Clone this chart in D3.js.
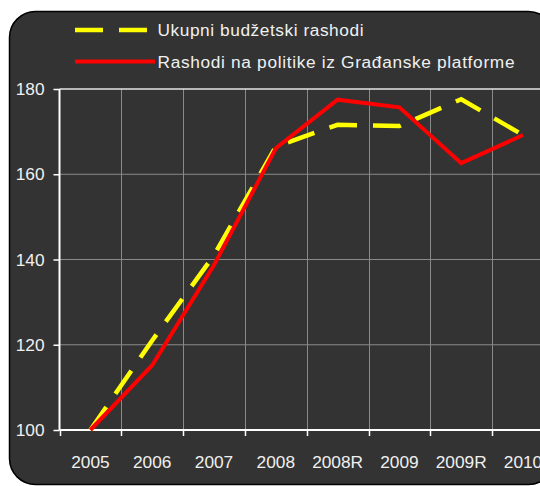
<!DOCTYPE html>
<html>
<head>
<meta charset="utf-8">
<script src="https://cdn.jsdelivr.net/npm/d3@7"></script>
<style>
  body { margin: 0; background: white; }
  svg { display: block; }
</style>
</head>
<body>
<div id="chart"></div>
<script>
// data
let years = ["2005", "2006", "2007", "2008", "2008R", "2009", "2009R", "2010"];
let ukupni = [100, 121, 141, 166.5, 171.6, 171.3, 177.6, 169.2];
let gradjanska = [100, 115.2, 138.7, 166.1, 177.5, 175.7, 162.6, 169.2];
let yTicks = [100, 120, 140, 160, 180];

let svgWidth = 540;
let svgHeight = 486;

let plotLeft = 59.5;
let plotTop = 89;
let plotBottom = 430;
let bandW = 61.8;

let svg = d3.select("#chart")
  .append("svg")
    .attr("width", svgWidth)
    .attr("height", svgHeight);

// dark rounded panel
svg.append("rect")
  .attr("x", 9.5)
  .attr("y", 11.5)
  .attr("width", 545)
  .attr("height", 473)
  .attr("rx", 26)
  .attr("fill", "#333333")
  .attr("stroke", "black")
  .attr("stroke-width", 1.5);

let x = d3.scaleBand()
  .domain(years)
  .range([plotLeft, plotLeft + bandW * years.length]);

let y = d3.scaleLinear()
  .domain([100, 180])
  .range([plotBottom, plotTop]);

// gridlines
svg.selectAll(".hgrid").data(yTicks.slice(1, -1)).enter()
  .append("line")
    .attr("class", "hgrid")
    .attr("x1", plotLeft)
    .attr("x2", svgWidth)
    .attr("y1", d => y(d))
    .attr("y2", d => y(d))
    .attr("stroke", "#8a8a8a")
    .attr("stroke-width", 1);

svg.selectAll(".vgrid").data(years.slice(1)).enter()
  .append("line")
    .attr("class", "vgrid")
    .attr("x1", d => Math.round(x(d)) + 0.5)
    .attr("x2", d => Math.round(x(d)) + 0.5)
    .attr("y1", plotTop)
    .attr("y2", plotBottom)
    .attr("stroke", "#8a8a8a")
    .attr("stroke-width", 1);

// top border of plot
svg.append("line")
  .attr("x1", plotLeft)
  .attr("x2", svgWidth)
  .attr("y1", plotTop)
  .attr("y2", plotTop)
  .attr("stroke", "#e6e6e6")
  .attr("stroke-width", 1.5);

// axes
let yAxis = d3.axisLeft(y)
  .tickValues(yTicks)
  .tickSize(6)
  .tickPadding(9);

let yG = svg.append("g")
  .attr("transform", "translate(" + plotLeft + ",0)")
  .call(yAxis);

let xAxis = d3.axisBottom(x)
  .tickSize(0)
  .tickPadding(26);

let xG = svg.append("g")
  .attr("transform", "translate(0," + plotBottom + ")")
  .call(xAxis);

// category boundary ticks
svg.selectAll(".xtick").data(years).enter()
  .append("line")
    .attr("class", "xtick")
    .attr("x1", d => Math.round(x(d)) + 0.5)
    .attr("x2", d => Math.round(x(d)) + 0.5)
    .attr("y1", plotBottom)
    .attr("y2", plotBottom + 6)
    .attr("stroke", "white")
    .attr("stroke-width", 1.5);

[yG, xG].forEach(g => {
  g.select(".domain").attr("stroke", "white").attr("stroke-width", 2);
  g.selectAll(".tick line").attr("stroke", "white").attr("stroke-width", 1.5);
  g.selectAll(".tick text")
    .attr("fill", "#f0f0f0")
    .attr("font-family", "Liberation Sans, Arial, sans-serif")
    .attr("font-size", 17.3);
});
yG.select(".domain").attr("d", "M0," + plotTop + "V" + plotBottom);
xG.select(".domain").attr("d", "M" + plotLeft + ",0H" + svgWidth);

// lines
let line = d3.line()
  .x((d, i) => x(years[i]) + x.bandwidth() / 2)
  .y(d => y(d));

svg.append("path")
  .datum(ukupni)
  .attr("d", line)
  .attr("fill", "none")
  .attr("stroke", "#ffff00")
  .attr("stroke-width", 4.5)
  .attr("stroke-dasharray", "28,16");

svg.append("path")
  .datum(gradjanska)
  .attr("d", line)
  .attr("fill", "none")
  .attr("stroke", "#ff0000")
  .attr("stroke-width", 4);

// legend
let legendItems = [
  {label: "Ukupni budžetski rashodi", color: "#ffff00", dash: "28,16", w: 4.5, len: 206},
  {label: "Rashodi na politike iz Građanske platforme", color: "#ff0000", dash: null, w: 4, len: 357}
];

let legend = svg.selectAll(".legendItem").data(legendItems).enter()
  .append("g")
    .attr("class", "legendItem")
    .attr("transform", (d, i) => "translate(75," + (30 + i * 31.5) + ")");

legend.append("line")
  .attr("x1", 0)
  .attr("x2", 80)
  .attr("y1", 0)
  .attr("y2", 0)
  .attr("stroke", d => d.color)
  .attr("stroke-width", d => d.w)
  .attr("stroke-dasharray", d => d.dash);

legend.append("text")
  .text(d => d.label)
  .attr("x", 82.5)
  .attr("y", 6)
  .attr("textLength", d => d.len)
  .attr("lengthAdjust", "spacing")
  .attr("fill", "#f0f0f0")
  .attr("font-family", "Liberation Sans, Arial, sans-serif")
  .attr("font-size", 17.3);
</script>
</body>
</html>
